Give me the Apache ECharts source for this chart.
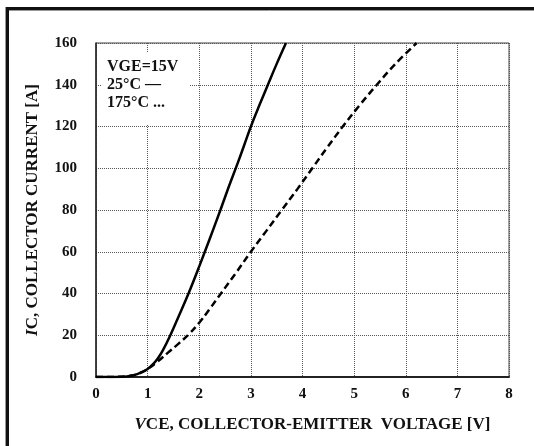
<!DOCTYPE html>
<html>
<head>
<meta charset="utf-8">
<script src="https://cdn.jsdelivr.net/npm/echarts@6/dist/echarts.min.js"></script>
<style>
  html, body { margin: 0; padding: 0; background: #fff; }
  #chart { width: 534px; height: 446px; }
</style>
</head>
<body>
<div id="chart"></div>
<script>
// Output characteristic: collector current vs collector-emitter voltage, VGE = 15 V
const vce25 = [0, 0.3, 0.5, 0.6, 0.7, 0.8, 0.9, 1.0, 1.1, 1.2, 1.3, 1.44, 1.6, 1.8, 2.0, 2.2, 2.41, 2.57, 2.73, 2.87, 3.0, 3.17, 3.33, 3.5, 3.68];
const ic25  = [0, 0, 0.1, 0.3, 0.7, 1.4, 2.4, 3.8, 6, 9, 13, 20, 29, 40.5, 53, 66, 80, 91, 101.5, 111, 120, 130.5, 140, 150, 160];

const vce175 = [0, 0.5, 0.6, 0.7, 0.8, 0.9, 1.0, 1.2, 1.4, 1.6, 1.8, 2.0, 2.2, 2.42, 2.7, 3.0, 3.3, 3.6, 3.9, 4.19, 4.48, 4.78, 5.1, 5.44, 5.8, 6.21];
const ic175  = [0, 0.1, 0.3, 0.7, 1.4, 2.4, 3.8, 7.5, 11.8, 16, 20.5, 26, 32.5, 40, 49.5, 60, 70, 80, 90, 100, 110, 120, 130, 140, 150, 160];

const xTicks = [0, 1, 2, 3, 4, 5, 6, 7, 8];
const yTicks = [0, 20, 40, 60, 80, 100, 120, 140, 160];

const legendLines = ['VGE=15V', '25°C \u2014', '175°C ...'];

const pairs = (xs, ys) => xs.map((x, i) => [x, ys[i]]);

const FONT = '"Liberation Serif", "Times New Roman", serif';
const titleRich = {
  i: { fontFamily: FONT, fontWeight: 'bold', fontStyle: 'italic', fontSize: 17, color: '#111' },
  n: { fontFamily: FONT, fontWeight: 'bold', fontSize: 17, color: '#111' }
};
const chart = echarts.init(document.getElementById('chart'), null, { renderer: 'canvas' });

chart.setOption({
  backgroundColor: '#fff',
  animation: false,
  grid: {
    left: 96, right: 25, top: 43, bottom: 69,
    show: true, borderColor: '#444', borderWidth: 1, backgroundColor: 'transparent'
  },
  xAxis: {
    type: 'value',
    min: xTicks[0], max: xTicks[xTicks.length - 1], interval: 1,
    name: '{i|V}{n|CE, COLLECTOR-EMITTER  VOLTAGE [V]}',
    nameLocation: 'middle', nameGap: 39,
    nameTextStyle: { rich: titleRich, padding: [0, 0, 0, 20] },
    axisLine: { lineStyle: { color: '#222', width: 2 } },
    axisTick: { show: false },
    axisLabel: { fontFamily: FONT, fontWeight: 'bold', fontSize: 15, color: '#111', margin: 10 },
    splitLine: { show: true, lineStyle: { type: 'dotted', color: '#555', width: 1 } }
  },
  yAxis: {
    type: 'value',
    min: yTicks[0], max: yTicks[yTicks.length - 1], interval: 20,
    name: '{i|I}{n|C, COLLECTOR CURRENT [A]}',
    nameLocation: 'middle', nameGap: 55, nameRotate: 90,
    nameTextStyle: { rich: titleRich },
    axisLine: { show: true, lineStyle: { color: '#222', width: 1.5 } },
    axisTick: { show: false },
    axisLabel: { fontFamily: FONT, fontWeight: 'bold', fontSize: 15, color: '#111', margin: 19 },
    splitLine: { show: true, lineStyle: { type: 'dotted', color: '#555', width: 1 } }
  },
  series: [
    {
      name: '25°C', type: 'line', smooth: 0.4, showSymbol: false, clip: true,
      data: pairs(vce25, ic25),
      lineStyle: { color: '#000', width: 2.5 }
    },
    {
      name: '175°C', type: 'line', smooth: 0.4, showSymbol: false, clip: true,
      data: pairs(vce175, ic175),
      lineStyle: { color: '#000', width: 2.5, type: [7, 4] }
    }
  ],
  graphic: [
    // frame along the top and left edges
    { type: 'line', shape: { x1: 5, y1: 8.5, x2: 534, y2: 8.5 }, style: { stroke: '#111', lineWidth: 3 } },
    { type: 'line', shape: { x1: 5, y1: 10.5, x2: 534, y2: 10.5 }, style: { stroke: '#999', lineWidth: 1 } },
    { type: 'line', shape: { x1: 7.5, y1: 7, x2: 7.5, y2: 446 }, style: { stroke: '#111', lineWidth: 3 } },
    { type: 'line', shape: { x1: 5.5, y1: 7, x2: 5.5, y2: 446 }, style: { stroke: '#999', lineWidth: 1 } },
    // legend block in the upper-left corner of the plot
    { type: 'rect', shape: { x: 101, y: 52, width: 88, height: 72 }, style: { fill: '#fff' }, z: 10 },
    {
      type: 'text', left: 107, top: 58, z: 11,
      style: {
        text: legendLines.join('\n'),
        font: 'bold 16px ' + FONT, fill: '#111', lineHeight: 18
      }
    }
  ]
});
</script>
</body>
</html>
